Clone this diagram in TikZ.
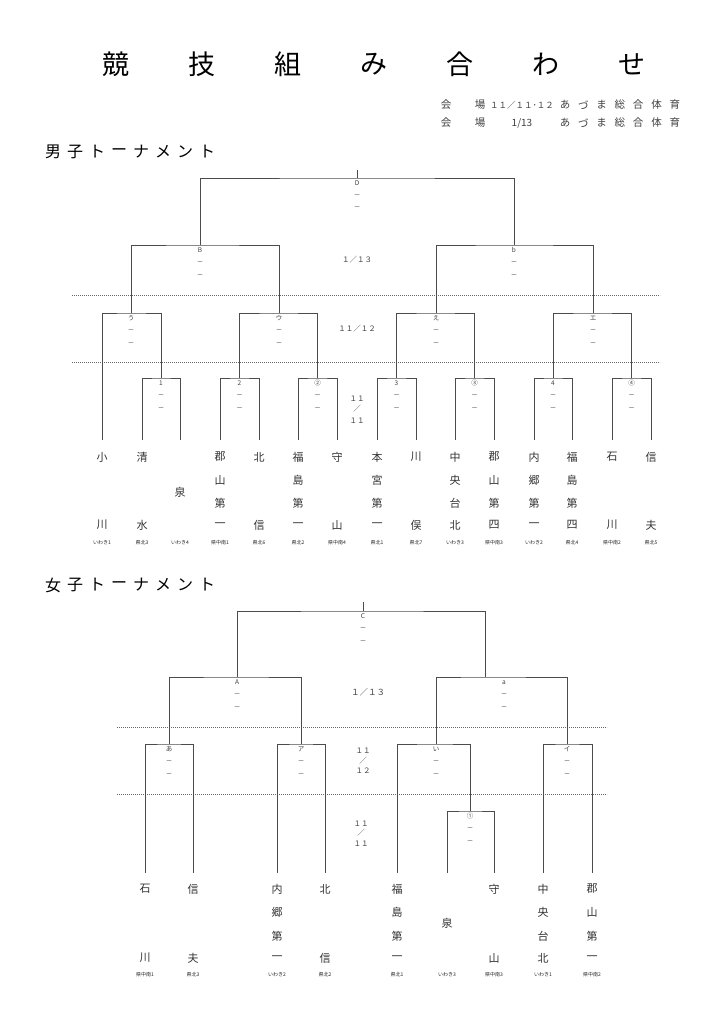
\documentclass[tikz,border=0pt]{standalone}
\usepackage{fontspec}
\setmainfont{Noto Sans CJK JP}
\usetikzlibrary{positioning}

\tikzset{
  bline/.style={line width=0.8pt, black!70},
  sep/.style={line width=0.7pt, black!60, dash pattern=on 1.2pt off 0.8pt},
  ttl/.style={inner sep=0pt, font=\fontsize{27}{27}\selectfont},
  head/.style={inner sep=0pt, font=\fontsize{16}{16}\selectfont},
  info/.style={inner sep=0pt, font=\fontsize{10.5}{10.5}\selectfont, text=black!75},
  team/.style={inner sep=0pt, font=\fontsize{11}{11}\selectfont, text=black!80},
  area/.style={inner sep=0pt, font=\fontsize{5}{5}\selectfont, text=black!85},
  mlab/.style={inner sep=0pt, text height=4.5pt, text depth=0.5pt, font=\fontsize{6.5}{6.5}\selectfont, text=black!75},
  date/.style={inner sep=0pt, font=\fontsize{7.5}{7.5}\selectfont, text=black!75},
}

% label of a match with two dashes under it
\newcommand{\matchlab}[2]{%
  \node[mlab, below=2.5pt of #1] (#1-t) {#2};
  \node[mlab, below=7pt of #1-t] (#1-d1) {－};
  \node[mlab, below=7pt of #1-d1] (#1-d2) {－};}

\begin{document}
\begin{tikzpicture}[x=1pt, y=-1pt]
\fill[white] (0,0) rectangle (724,1024);
\useasboundingbox (0,0) rectangle (724,1024);

% title
\foreach \c [count=\i] in {競,技,組,み,合,わ,せ}
  \node[ttl] (title\i) at ({116+86*(\i-1)},64) {\c};

% venue
\node[info] (v1a) at (446,105) {会};
\node[info] (v1b) at (480,105) {場};
\node[info, font=\fontsize{8.5}{8.5}\selectfont] (v1c) at (522,105) {１１／１１･１２};
\node[info] (v2a) at (446,123) {会};
\node[info] (v2b) at (480,123) {場};
\node[info, font=\fontsize{10}{10}\selectfont] (v2c) at (522,123) {1/13};
\foreach \c [count=\i] in {あ,づ,ま,総,合,体,育} {
  \node[info] (v1-\i) at ({565+18.3*(\i-1)},105) {\c};
  \node[info] (v2-\i) at ({565+18.3*(\i-1)},123) {\c};
}

% headings
\foreach \c [count=\i] in {男,子,ト,ー,ナ,メ,ン,ト}
  \node[head] (mh\i) at ({53+22*(\i-1)},152) {\c};
\foreach \c [count=\i] in {女,子,ト,ー,ナ,メ,ン,ト}
  \node[head] (wh\i) at ({53+22*(\i-1)},585) {\c};

%%%%%%%%%% men
\draw[sep] (72,295) -- (660,295);
\draw[sep] (72,362) -- (660,362);

\foreach \x [count=\i] in {102,142,180,220,259,298,337,377,416,455,494,534,572,612,651}
  \coordinate (ml\i) at (\x,440);
% first round
\foreach \i/\x/\a/\b/\t in {1/161/2/3/1, 2/239.5/4/5/2, 3/317.5/6/7/②, 4/396.5/8/9/3,
    5/474.5/10/11/③, 6/553/12/13/4, 7/631.5/14/15/④} {
  \coordinate (mr\i) at (\x,378);
  \draw[bline] (ml\a) |- (mr\i) -| (ml\b);
  \matchlab{mr\i}{\t}
}
% quarter
\foreach \i/\x/\a/\b/\t in {1/131/ml1/mr1/う, 2/279/mr2/mr3/ウ, 3/436/mr4/mr5/え, 4/593/mr6/mr7/エ} {
  \coordinate (mq\i) at (\x,313);
  \draw[bline] (\a) |- (mq\i) -| (\b);
  \matchlab{mq\i}{\t}
}
% semi
\foreach \i/\x/\a/\b/\t in {1/200/mq1/mq2/B, 2/514/mq3/mq4/b} {
  \coordinate (ms\i) at (\x,245);
  \draw[bline] (\a) |- (ms\i) -| (\b);
  \matchlab{ms\i}{\t}
}
% final
\coordinate (mf) at (357,178);
\coordinate (mtop) at (357,170);
\draw[bline] (ms1) |- (mf) -| (ms2);
\draw[bline] (mf) -- (mtop);
\matchlab{mf}{D}

% dates
\node[date] (md1) at (357,260) {１／１３};
\node[date] (md2) at (357,329) {１１／１２};
\node[date] (md3) at (357,399) {１１};
\node[date] (md4) at (357,409) {／};
\node[date] (md5) at (357,421) {１１};

% schools
\foreach \x/\a/\d in {102/小/川, 142/清/水, 259/北/信, 337/守/山, 416/川/俣, 612/石/川, 651/信/夫} {
  \node[team] (mn\x-1) at (\x,457) {\a};
  \node[team] (mn\x-4) at (\x,525) {\d};
}
\foreach \x/\a/\b/\c/\d in {220/郡/山/第/一, 298/福/島/第/一, 377/本/宮/第/一, 455/中/央/台/北,
    494/郡/山/第/四, 534/内/郷/第/一, 572/福/島/第/四} {
  \node[team] (mn\x-1) at (\x,457) {\a};
  \node[team] (mn\x-2) at (\x,480) {\b};
  \node[team] (mn\x-3) at (\x,503) {\c};
  \node[team] (mn\x-4) at (\x,525) {\d};
}
\node[team] (mn180) at (180,492) {泉};
\foreach \x/\t in {102/いわき1, 142/県北3, 180/いわき4, 220/県中南1, 259/県北6, 298/県北2, 337/県中南4,
    377/県北1, 416/県北7, 455/いわき3, 494/県中南3, 534/いわき2, 572/県北4, 612/県中南2, 651/県北5}
  \node[area] (ma\x) at (\x,543) {\t};

%%%%%%%%%% women
\draw[sep] (117,727) -- (607,727);
\draw[sep] (117,794) -- (607,794);

\foreach \x [count=\i] in {145,193,277,325,397,447,494,543,592}
  \coordinate (wl\i) at (\x,873);
% first round
\coordinate (wr1) at (470,811);
\draw[bline] (wl6) |- (wr1) -| (wl7);
\matchlab{wr1}{①}
% quarter
\foreach \i/\x/\a/\b/\t in {1/169/wl1/wl2/あ, 2/301/wl3/wl4/ア, 3/436/wl5/wr1/い, 4/567/wl8/wl9/イ} {
  \coordinate (wq\i) at (\x,744);
  \draw[bline] (\a) |- (wq\i) -| (\b);
  \matchlab{wq\i}{\t}
}
% semi
\coordinate (ws1) at (237,677);
\coordinate (ws2) at (485,677);
\coordinate (wa) at (504,677);
\draw[bline] (wq1) |- (ws1) -| (wq2);
\draw[bline] (wq3) |- (ws2) -| (wq4);
\matchlab{ws1}{A}
\matchlab{wa}{a}
% final
\coordinate (wf) at (363,611);
\coordinate (wtop) at (363,602);
\draw[bline] (ws1) |- (wf) -| (ws2);
\draw[bline] (wf) -- (wtop);
\matchlab{wf}{C}

% dates
\node[date, font=\fontsize{8.5}{8.5}\selectfont] (wd1) at (368,692) {１／１３};
\node[date] (wd2) at (363,751) {１１};
\node[date] (wd3) at (363,761) {／};
\node[date] (wd4) at (363,771) {１２};
\node[date] (wd5) at (361,824) {１１};
\node[date] (wd6) at (361,833) {／};
\node[date] (wd7) at (361,844) {１１};

% schools
\foreach \x/\a/\d in {145/石/川, 193/信/夫, 325/北/信, 494/守/山} {
  \node[team] (wn\x-1) at (\x,889) {\a};
  \node[team] (wn\x-4) at (\x,958) {\d};
}
\foreach \x/\a/\b/\c/\d in {277/内/郷/第/一, 397/福/島/第/一, 543/中/央/台/北, 592/郡/山/第/一} {
  \node[team] (wn\x-1) at (\x,889) {\a};
  \node[team] (wn\x-2) at (\x,912) {\b};
  \node[team] (wn\x-3) at (\x,936) {\c};
  \node[team] (wn\x-4) at (\x,958) {\d};
}
\node[team] (wn447) at (447,923) {泉};
\foreach \x/\t in {145/県中南1, 193/県北3, 277/いわき2, 325/県北2, 397/県北1, 447/いわき3,
    494/県中南3, 543/いわき1, 592/県中南2}
  \node[area] (wa\x) at (\x,975) {\t};
\end{tikzpicture}
\end{document}
